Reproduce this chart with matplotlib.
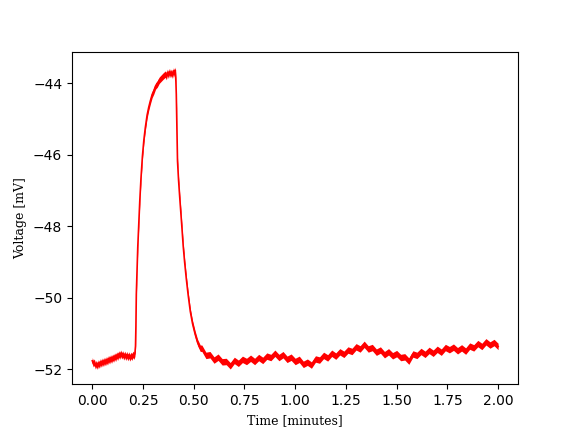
import matplotlib
matplotlib.use("Agg")
import matplotlib.pyplot as plt
import numpy as np

# time in minutes, membrane voltage in mV (noise included)
time_min = [
    0.000, 0.005, 0.010, 0.015, 0.020, 0.025, 0.030, 0.035, 0.040, 0.045,
    0.050, 0.055, 0.060, 0.065, 0.070, 0.075, 0.080, 0.085, 0.090, 0.095,
    0.100, 0.105, 0.110, 0.115, 0.120, 0.125, 0.130, 0.135, 0.140, 0.145,
    0.150, 0.155, 0.160, 0.165, 0.170, 0.175, 0.180, 0.185, 0.190, 0.195,
    0.200, 0.205, 0.210,
    0.213, 0.215, 0.217, 0.220, 0.224, 0.228, 0.234, 0.240, 0.247, 0.254,
    0.261, 0.270, 0.278, 0.286, 0.295, 0.303, 0.312, 0.320, 0.330, 0.340,
    0.350, 0.360,
    0.365, 0.370, 0.375, 0.380, 0.385, 0.390, 0.395, 0.400, 0.405, 0.409,
    0.412, 0.414, 0.417, 0.420, 0.425, 0.431, 0.437, 0.442, 0.448, 0.455,
    0.463, 0.472, 0.483, 0.494, 0.507, 0.519, 0.532,
    0.54, 0.56, 0.58, 0.60, 0.62, 0.64, 0.66, 0.68, 0.70, 0.72,
    0.74, 0.76, 0.78, 0.80, 0.82, 0.84, 0.86, 0.88, 0.90, 0.92,
    0.94, 0.96, 0.98, 1.00, 1.02, 1.04, 1.06, 1.08, 1.10, 1.12,
    1.14, 1.16, 1.18, 1.20, 1.22, 1.24, 1.26, 1.28, 1.30, 1.32,
    1.34, 1.36, 1.38, 1.40, 1.42, 1.44, 1.46, 1.48, 1.50, 1.52,
    1.54, 1.56, 1.58, 1.60, 1.62, 1.64, 1.66, 1.68, 1.70, 1.72,
    1.74, 1.76, 1.78, 1.80, 1.82, 1.84, 1.86, 1.88, 1.90, 1.92,
    1.94, 1.96, 1.98, 2.00,
]
voltage_mv = [
    -51.76, -51.84, -51.80, -51.90, -51.84, -51.91, -51.82, -51.88, -51.79, -51.85,
    -51.77, -51.83, -51.75, -51.81, -51.73, -51.79, -51.70, -51.76, -51.68, -51.74,
    -51.66, -51.71, -51.63, -51.69, -51.60, -51.66, -51.57, -51.63, -51.55, -51.62,
    -51.57, -51.65, -51.58, -51.66, -51.59, -51.67, -51.60, -51.68, -51.61, -51.66,
    -51.58, -51.63, -51.55,
    -51.35, -50.80, -49.90, -49.30, -48.60, -48.06, -47.30, -46.66, -46.05, -45.60,
    -45.26, -44.90, -44.68, -44.50, -44.32, -44.22, -44.08, -44.03, -43.92, -43.86,
    -43.80, -43.75,
    -43.82, -43.70, -43.78, -43.68, -43.76, -43.70, -43.78, -43.66, -43.74, -43.64,
    -43.95, -44.31, -45.20, -46.18, -46.70, -47.20, -47.65, -48.06, -48.55, -49.00,
    -49.45, -49.90, -50.38, -50.72, -51.02, -51.25, -51.41,
    -51.41, -51.61, -51.59, -51.74, -51.66, -51.79, -51.78, -51.90, -51.75, -51.83,
    -51.72, -51.78, -51.69, -51.78, -51.67, -51.75, -51.63, -51.67, -51.55, -51.67,
    -51.59, -51.72, -51.66, -51.78, -51.72, -51.86, -51.80, -51.88, -51.71, -51.74,
    -51.61, -51.68, -51.55, -51.63, -51.51, -51.58, -51.46, -51.50, -51.37, -51.43,
    -51.30, -51.43, -51.39, -51.52, -51.46, -51.59, -51.51, -51.62, -51.56, -51.67,
    -51.65, -51.77, -51.57, -51.61, -51.50, -51.58, -51.47, -51.55, -51.44, -51.52,
    -51.39, -51.45, -51.38, -51.48, -51.40, -51.49, -51.35, -51.40, -51.28, -51.36,
    -51.23, -51.32, -51.25, -51.36,
]
# half-width of the recording noise band (mV)
noise_half_width = 0.09

t = np.array(time_min)
v = np.array(voltage_mv)

fig, ax = plt.subplots(figsize=(5.76, 4.32), dpi=100)
ax.fill_between(t, v - noise_half_width, v + noise_half_width, color="red", linewidth=0)
ax.plot(t, v, color="red", linewidth=1.2)

ax.set_xlabel("Time [minutes]", family="DejaVu Serif", fontsize=9)
ax.set_ylabel("Voltage [mV]", family="DejaVu Serif", fontsize=9)
ax.set_xticks([0.0, 0.25, 0.5, 0.75, 1.0, 1.25, 1.5, 1.75, 2.0])
ax.set_yticks([-52, -50, -48, -46, -44])

fig.savefig("out.png", dpi=100)
